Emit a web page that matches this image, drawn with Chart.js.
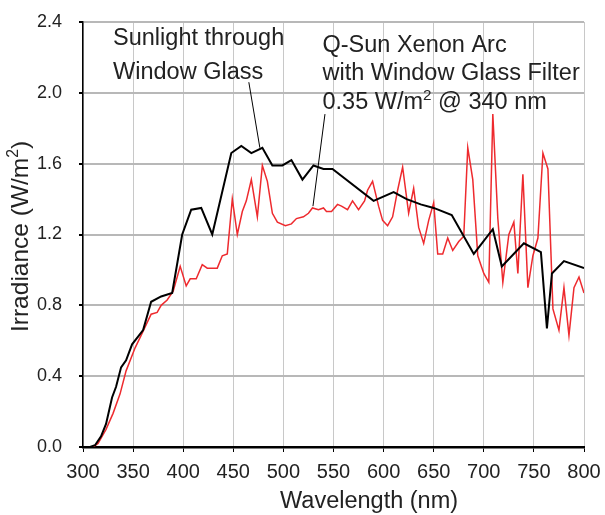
<!DOCTYPE html>
<html>
<head>
<meta charset="utf-8">
<script src="https://cdn.jsdelivr.net/npm/chart.js@4"></script>
<style>
  html, body { margin: 0; padding: 0; background: #fff; }
  #chart { display: block; }
</style>
</head>
<body>
<canvas id="chart" width="605" height="515"></canvas>
<script>
// Sunlight through window glass (black)
const sunWl = [300, 307, 312, 318, 323, 329, 333, 338, 343, 349, 360, 368, 378, 389, 399, 408, 418, 429, 448, 458, 468, 479, 489, 499, 508, 519, 530, 540, 549, 590, 610, 623, 637, 650, 668, 690, 709, 718, 740, 757, 763, 768, 780, 800];
const sunIrr = [0.0, 0.0, 0.01, 0.06, 0.13, 0.28, 0.34, 0.45, 0.49, 0.58, 0.66, 0.82, 0.85, 0.87, 1.20, 1.34, 1.35, 1.20, 1.66, 1.70, 1.66, 1.69, 1.59, 1.59, 1.62, 1.51, 1.59, 1.57, 1.57, 1.39, 1.44, 1.40, 1.37, 1.35, 1.31, 1.09, 1.23, 1.02, 1.15, 1.10, 0.67, 0.98, 1.05, 1.01];

// Q-Sun Xenon Arc with window glass filter (red)
const xenonWl = [300, 310, 315, 323, 330, 337, 343, 352, 358, 368, 374, 378, 384, 390, 397, 403, 407, 413, 419, 424, 434, 439, 444, 449, 454, 459, 463, 468, 474, 479, 484, 489, 494, 502, 508, 513, 520, 525, 529, 535, 540, 543, 548, 554, 558, 564, 569, 575, 581, 584, 589, 595, 599, 604, 609, 614, 619, 625, 630, 635, 640, 645, 650, 654, 659, 664, 669, 675, 680, 684, 689, 694, 700, 705, 709, 714, 719, 725, 730, 734, 739, 744, 749, 754, 759, 764, 769, 775, 780, 785, 790, 795, 800];
const xenonIrr = [0.0, 0.0, 0.02, 0.10, 0.19, 0.30, 0.43, 0.56, 0.63, 0.75, 0.76, 0.80, 0.83, 0.88, 1.02, 0.91, 0.95, 0.95, 1.03, 1.01, 1.01, 1.08, 1.09, 1.40, 1.20, 1.33, 1.39, 1.51, 1.30, 1.59, 1.50, 1.32, 1.27, 1.25, 1.26, 1.29, 1.30, 1.32, 1.35, 1.34, 1.35, 1.33, 1.33, 1.37, 1.36, 1.34, 1.39, 1.34, 1.39, 1.45, 1.50, 1.36, 1.28, 1.25, 1.30, 1.45, 1.58, 1.32, 1.46, 1.24, 1.15, 1.28, 1.38, 1.09, 1.09, 1.18, 1.11, 1.16, 1.19, 1.69, 1.51, 1.08, 0.98, 0.93, 1.88, 1.29, 0.93, 1.20, 1.27, 0.98, 1.54, 0.90, 1.08, 1.18, 1.66, 1.57, 0.78, 0.66, 0.90, 0.63, 0.90, 0.96, 0.87];

const FONT = "'Liberation Sans', Arial, sans-serif";
const TEXT = '#222';

// annotation text + leader lines, in data units
const notes = [
    { x: 330, y: 2.27, text: 'Sunlight through' },
    { x: 330, y: 2.08, text: 'Window Glass' },
    { x: 539, y: 2.23, text: 'Q-Sun Xenon Arc' },
    { x: 539, y: 2.07, text: 'with Window Glass Filter' },
    { x: 539, y: 1.91, text: ['0.35 W/m', '2', ' @ 340 nm'] },
];
const leaders = [
    [465.5, 2.06, 476.5, 1.69],
    [541.5, 1.88, 529.5, 1.36],
];

// draw text with superscript parts: [base, sup, base, ...]
function drawRich(ctx, parts, x, y, size) {
    let cx = x;
    parts.forEach((p, i) => {
        const sup = i % 2 === 1;
        ctx.font = (sup ? size * 0.65 : size) + 'px ' + FONT;
        ctx.fillText(p, cx, sup ? y - size * 0.38 : y);
        cx += ctx.measureText(p).width;
    });
}

const annotations = {
    id: 'annotations',
    afterDraw(chart) {
        const ctx = chart.ctx;
        const xs = chart.scales.x, ys = chart.scales.y;
        ctx.save();
        ctx.strokeStyle = '#000';
        ctx.lineWidth = 1;
        leaders.forEach(l => {
            ctx.beginPath();
            ctx.moveTo(xs.getPixelForValue(l[0]), ys.getPixelForValue(l[1]));
            ctx.lineTo(xs.getPixelForValue(l[2]), ys.getPixelForValue(l[3]));
            ctx.stroke();
        });
        ctx.fillStyle = TEXT;
        ctx.textAlign = 'left';
        ctx.textBaseline = 'alphabetic';
        notes.forEach(n => {
            const parts = Array.isArray(n.text) ? n.text : [n.text];
            drawRich(ctx, parts, xs.getPixelForValue(n.x), ys.getPixelForValue(n.y), 23.5);
        });

        // axis titles
        ctx.font = '23.5px ' + FONT;
        ctx.fillText('Wavelength (nm)', 280, 508);
        ctx.translate(27.5, 332);
        ctx.rotate(-Math.PI / 2);
        drawRich(ctx, ['Irradiance (W/m', '2', ')'], 0, 0, 24.5);
        ctx.restore();
    }
};

new Chart(document.getElementById('chart').getContext('2d'), {
    type: 'line',
    data: {
        datasets: [
            {
                label: 'Sunlight through Window Glass',
                data: sunWl.map((w, i) => ({ x: w, y: sunIrr[i] })),
                borderColor: '#000',
                borderWidth: 2,
                pointRadius: 0,
                tension: 0,
            },
            {
                label: 'Q-Sun Xenon Arc with Window Glass Filter',
                data: xenonWl.map((w, i) => ({ x: w, y: xenonIrr[i] })),
                borderColor: '#ee2a2e',
                borderWidth: 1.5,
                pointRadius: 0,
                tension: 0,
            },
        ],
    },
    options: {
        responsive: false,
        animation: false,
        layout: { padding: { top: 22, right: 21, left: 0, bottom: 0 } },
        plugins: {
            legend: { display: false },
            tooltip: { enabled: false },
        },
        scales: {
            x: {
                type: 'linear',
                min: 300,
                max: 800,
                afterFit: s => { s.height = 68; s.paddingLeft = 0; s.paddingRight = 0; },
                ticks: {
                    stepSize: 50,
                    color: TEXT,
                    font: { family: FONT, size: 20 },
                    padding: 8,
                    maxRotation: 0,
                },
                grid: { color: '#c8c8c8', lineWidth: 1, tickColor: '#000', tickLength: 5 },
                border: { color: '#000', width: 2.5 },
            },
            y: {
                min: 0,
                max: 2.4,
                afterFit: s => { s.width = 83; s.paddingTop = 0; s.paddingBottom = 0; },
                ticks: {
                    stepSize: 0.4,
                    color: TEXT,
                    font: { family: FONT, size: 18 },
                    padding: 17,
                    callback: v => v.toFixed(1),
                },
                grid: { color: '#b8b8b8', lineWidth: 2, tickColor: '#000', tickLength: 4 },
                border: { color: '#000', width: 1.5 },
            },
        },
    },
    plugins: [annotations],
});
</script>
</body>
</html>
